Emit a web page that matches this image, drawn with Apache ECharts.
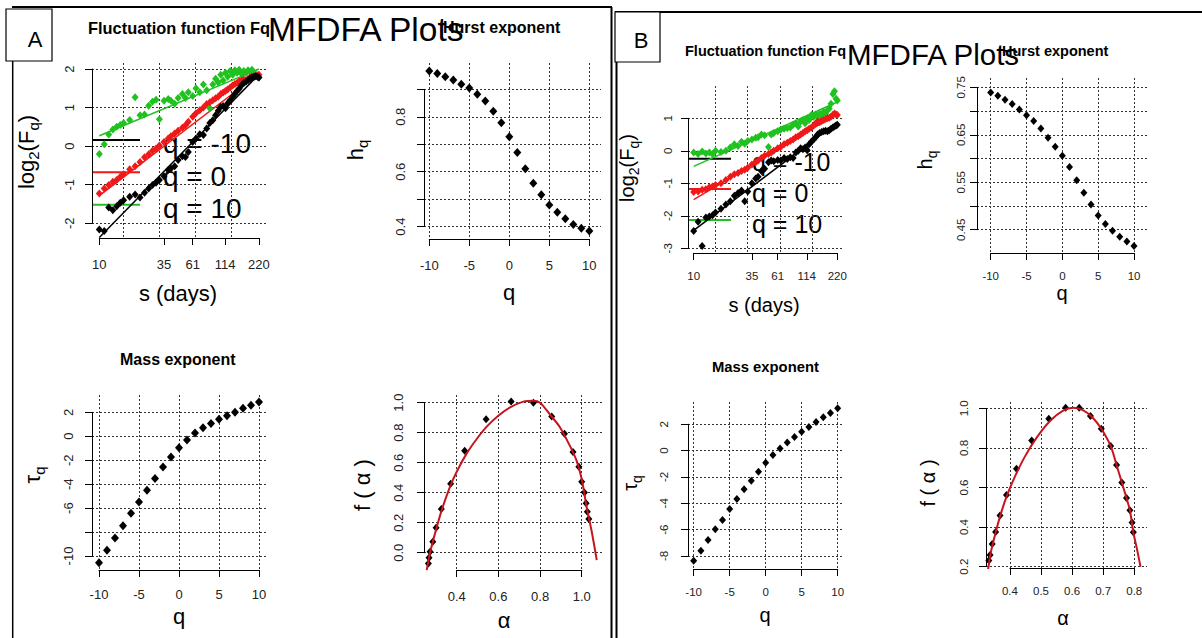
<!DOCTYPE html>
<html>
<head>
<meta charset="utf-8">
<title>MFDFA Plots</title>
<script src="https://cdn.jsdelivr.net/npm/echarts@6.0.0/dist/echarts.min.js"></script>
<style>
  html, body { margin: 0; padding: 0; background: #fff; }
  #chart { width: 1202px; height: 638px; }
</style>
</head>
<body>
<div id="chart"></div>
<script>
"use strict";

// ---- data ----

// segment sizes s (days) for the fluctuation function
const sDays = [10, 11, 12, 13, 14, 15, 16, 18, 20, 22, 24, 26, 28, 30, 32, 35, 38, 40, 43, 46, 50, 53, 56,
    61, 65, 70, 75, 80, 85, 90, 95, 100, 105, 110, 115, 120, 126, 132, 138, 144, 150, 157, 164, 171, 178,
    185, 192, 200, 207, 214, 220];

// panel A, log2(Fq)
const fqA_qm10 = [-2.16, -2.2, -1.59, -1.66, -1.56, -1.47, -1.4, -1.31, -1.25, -1.33, -1.21, -1.1, -1.01, -0.95,
    -0.88, -0.78, -0.62, -0.58, -0.52, -0.36, -0.26, -0.28, -0.15, 0.11, 0.2, 0.31, 0.29, 0.46, 0.6, 0.67, 0.8,
    0.92, 1.02, 1.04, 0.98, 1.11, 1.19, 1.28, 1.36, 1.43, 1.49, 1.58, 1.64, 1.67, 1.71, 1.75, 1.78, 1.8, 1.81,
    1.8, 1.78];
const fqA_q0 = [-1.23, -1.1, -1.01, -0.92, -0.88, -0.79, -0.73, -0.6, -0.52, -0.41, -0.29, -0.21, -0.12, -0.06,
    0.02, 0.11, 0.2, 0.26, 0.33, 0.4, 0.48, 0.54, 0.63, 0.76, 0.85, 0.93, 1.0, 1.09, 1.14, 1.19, 1.24, 1.28,
    1.35, 1.39, 1.43, 1.47, 1.52, 1.57, 1.61, 1.64, 1.68, 1.71, 1.73, 1.71, 1.75, 1.78, 1.8, 1.81, 1.83, 1.84,
    1.85];
const fqA_q10 = [-0.2, 0.05, 0.3, 0.43, 0.5, 0.55, 0.6, 0.68, 1.27, 0.8, 0.82, 1.05, 1.15, 1.2, 0.7, 1.18, 1.22,
    1.18, 1.1, 1.25, 1.35, 1.25, 1.4, 1.3, 1.5, 1.4, 1.6, 1.45, 0.98, 1.6, 1.75, 1.65, 1.85, 1.7, 1.9, 1.8, 1.95,
    1.85, 1.97, 1.9, 1.98, 1.88, 1.95, 1.9, 1.97, 1.92, 1.98, 1.9, 1.85, 1.8, 1.78];

// panel B, log2(Fq)
const fqB_qm10 = [-2.47, -2.18, -2.93, -2.05, -2.02, -1.98, -1.9, -1.78, -1.65, -1.55, -1.38, -1.3, -1.22, -1.55,
    -1.25, -1.0, -0.85, -0.8, -0.62, -0.55, -0.35, -0.3, -0.32, -0.28, -0.3, -0.22, -0.25, -0.2, -0.22, -0.05,
    0.0, 0.08, 0.05, 0.1, 0.02, 0.2, 0.28, 0.35, 0.42, 0.5, 0.55, 0.58, 0.6, 0.62, 0.6, 0.63, 0.68, 0.72, 0.75,
    0.78, 0.8];
const fqB_q0 = [-1.27, -1.25, -1.2, -1.18, -1.12, -1.1, -1.05, -1.0, -0.9, -0.8, -0.72, -0.68, -0.62, -0.58,
    -0.52, -0.42, -0.35, -0.3, -0.22, -0.15, -0.1, -0.05, 0.0, 0.08, 0.12, 0.2, 0.25, 0.3, 0.35, 0.42, 0.45,
    0.5, 0.55, 0.6, 0.63, 0.68, 0.72, 0.78, 0.85, 0.9, 0.88, 0.92, 0.95, 0.98, 1.0, 1.02, 1.05, 1.1, 1.15,
    1.12, 1.1];
const fqB_q10 = [-0.05, -0.1, -0.02, -0.08, -0.05, -0.1, 0.0, -0.04, 0.0, 0.1, 0.2, 0.15, 0.28, 0.22, 0.3, 0.35,
    0.4, 0.42, 0.5, 0.48, 0.12, 0.5, 0.55, 0.6, 0.65, 0.68, 0.7, 0.72, 0.8, 0.85, 0.75, 0.9, 0.95, 0.85, 1.0,
    0.95, 1.1, 1.05, 1.12, 1.05, 1.15, 1.1, 1.2, 1.15, 1.25, 1.3, 1.45, 1.75, 1.83, 1.6, 1.55];

// regression lines, value at s = 10 and s = 220
const fitS = [10, 220];
const fitA_qm10 = [-2.37, 1.86];
const fitA_q0 = [-1.28, 1.88];
const fitA_q10 = [0.27, 2.0];
const fitB_qm10 = [-2.45, 0.88];
const fitB_q0 = [-1.5, 1.14];
const fitB_q10 = [-0.48, 1.5];

// q from -10 to 10
const qVals = [-10, -9, -8, -7, -6, -5, -4, -3, -2, -1, 0, 1, 2, 3, 4, 5, 6, 7, 8, 9, 10];

// generalized Hurst exponent
const hqA = [0.967, 0.958, 0.946, 0.934, 0.919, 0.905, 0.882, 0.858, 0.82, 0.778, 0.727, 0.67, 0.611, 0.558,
    0.516, 0.479, 0.452, 0.429, 0.408, 0.394, 0.384];
const hqB = [0.739, 0.732, 0.724, 0.715, 0.703, 0.691, 0.679, 0.663, 0.644, 0.625, 0.606, 0.582, 0.554, 0.528,
    0.503, 0.48, 0.462, 0.448, 0.435, 0.425, 0.416];

// mass exponent
const tauA = [-10.56, -9.53, -8.5, -7.47, -6.44, -5.5, -4.5, -3.52, -2.57, -1.74, -0.96, -0.32, 0.28, 0.72, 1.06,
    1.42, 1.72, 2.0, 2.33, 2.58, 2.86];
const tauB = [-8.36, -7.6, -6.79, -5.97, -5.27, -4.43, -3.67, -2.94, -2.28, -1.6, -0.92, -0.33, 0.15, 0.61, 1.03,
    1.44, 1.79, 2.17, 2.53, 2.86, 3.21];

// singularity spectrum, points
const alphaA = [0.264, 0.267, 0.272, 0.285, 0.301, 0.326, 0.371, 0.438, 0.541, 0.661, 0.768, 0.856, 0.917, 0.958,
    0.986, 1.0, 1.013, 1.021, 1.027, 1.034];
const fAlphaA = [-0.071, -0.033, 0.007, 0.073, 0.167, 0.291, 0.46, 0.68, 0.889, 1.007, 1.0, 0.907, 0.793, 0.671,
    0.573, 0.473, 0.402, 0.329, 0.273, 0.224];
const alphaB = [0.332, 0.336, 0.343, 0.354, 0.368, 0.389, 0.421, 0.47, 0.525, 0.579, 0.623, 0.659, 0.694, 0.724,
    0.743, 0.76, 0.775, 0.786, 0.793, 0.797];
const fAlphaB = [0.231, 0.259, 0.315, 0.375, 0.458, 0.562, 0.695, 0.837, 0.948, 1.003, 1.003, 0.961, 0.897, 0.81,
    0.714, 0.625, 0.547, 0.485, 0.423, 0.374];

// singularity spectrum, fitted curve
const curveAlphaA = [0.256, 0.272, 0.296, 0.328, 0.368, 0.4, 0.448, 0.496, 0.544, 0.598, 0.656, 0.72, 0.768, 0.8,
    0.848, 0.896, 0.944, 0.976, 1.0, 1.024, 1.048, 1.072];
const curveFA = [-0.116, 0.0, 0.129, 0.284, 0.44, 0.54, 0.662, 0.758, 0.84, 0.911, 0.969, 1.007, 1.013, 1.0,
    0.92, 0.835, 0.71, 0.61, 0.49, 0.3, 0.14, -0.049];
const curveAlphaB = [0.33, 0.338, 0.352, 0.368, 0.389, 0.416, 0.448, 0.486, 0.529, 0.571, 0.604, 0.636, 0.665,
    0.694, 0.724, 0.743, 0.76, 0.775, 0.786, 0.797, 0.81, 0.82];
const curveFB = [0.187, 0.268, 0.36, 0.453, 0.554, 0.655, 0.756, 0.852, 0.936, 0.988, 1.003, 0.99, 0.955, 0.897,
    0.81, 0.714, 0.625, 0.547, 0.485, 0.374, 0.28, 0.2];

// tick / grid values
const sTicks = [10, 35, 61, 114, 220];
const sGrid = [16, 32, 64, 128];
const qTicks = [-10, -5, 0, 5, 10];

// ---- layout helpers ----
const FONT = '"Liberation Sans", Arial, sans-serif';
const BLACK = '#000';
const RED = '#f01818';
const GREEN = '#1fc21f';
const DARKRED = '#c8141e';
const gridLine = {color: '#333', width: 1, type: [2, 2]};

const grids = [], xAxes = [], yAxes = [], series = [];

function pairs(xs, ys) {
    return xs.map((x, i) => [x, ys[i]]);
}

// one R style panel: dotted grid over the plot region, axes that only run between first and last tick
function addPlot(p) {
    const [l, t, r, b] = p.box;
    const w = r - l, h = b - t;
    const tx = p.xLog ? Math.log2 : (v => v);
    const fx = v => (tx(v) - tx(p.x[0])) / (tx(p.x[1]) - tx(p.x[0]));
    const fy = v => (v - p.y[0]) / (p.y[1] - p.y[0]);
    const xType = p.xLog ? 'log' : 'value';
    const xFmt = p.xFmt || (v => String(Math.round(v)));
    const yFmt = p.yFmt || (v => String(Math.round(v)));

    const main = grids.length;
    grids.push({left: l, top: t, width: w, height: h, outerBoundsMode: 'none'});
    xAxes.push({
        gridIndex: main, type: xType, logBase: 2, min: p.x[0], max: p.x[1],
        axisLine: {show: false}, axisTick: {show: false, customValues: p.xGrid},
        axisLabel: {show: false}, splitLine: {show: true, lineStyle: gridLine}
    });
    yAxes.push({
        gridIndex: main, type: 'value', min: p.y[0], max: p.y[1],
        axisLine: {show: false}, axisTick: {show: false, customValues: p.yGrid},
        axisLabel: {show: false}, splitLine: {show: true, lineStyle: gridLine}
    });

    // x axis
    const x0 = p.xTicks[0], x1 = p.xTicks[p.xTicks.length - 1];
    const gx = grids.length;
    grids.push({left: l + w * fx(x0), width: w * (fx(x1) - fx(x0)), top: t, height: h, outerBoundsMode: 'none'});
    xAxes.push({
        gridIndex: gx, type: xType, logBase: 2, min: x0, max: x1, position: 'bottom',
        axisLine: {show: true, onZero: false, lineStyle: {color: BLACK, width: 1}},
        axisTick: {show: true, length: 7, customValues: p.xTicks, lineStyle: {color: BLACK}},
        axisLabel: {
            customValues: p.xLabels || p.xTicks, margin: p.xMargin, fontSize: p.font,
            fontFamily: FONT, color: '#222', formatter: xFmt
        },
        splitLine: {show: false}
    });
    yAxes.push({gridIndex: gx, type: 'value', show: false});

    // y axis
    const y0 = p.yTicks[0], y1 = p.yTicks[p.yTicks.length - 1];
    const gy = grids.length;
    grids.push({left: l, width: w, top: t + h * (1 - fy(y1)), height: h * (fy(y1) - fy(y0)), outerBoundsMode: 'none'});
    xAxes.push({gridIndex: gy, type: 'value', show: false});
    yAxes.push({
        gridIndex: gy, type: 'value', min: y0, max: y1, position: 'left',
        axisLine: {show: true, onZero: false, lineStyle: {color: BLACK, width: 1}},
        axisTick: {show: true, length: 7, customValues: p.yTicks, lineStyle: {color: BLACK}},
        axisLabel: {
            customValues: p.yLabels || p.yTicks, rotate: 90, margin: p.yMargin, fontSize: p.font,
            fontFamily: FONT, color: '#222', formatter: yFmt
        },
        splitLine: {show: false}
    });
    return main;
}

function points(idx, xs, ys, color, size) {
    series.push({
        type: 'scatter', xAxisIndex: idx, yAxisIndex: idx, data: pairs(xs, ys),
        symbol: 'diamond', symbolSize: size, itemStyle: {color: color, opacity: 1}, silent: true, z: 2
    });
}

function line(idx, xs, ys, color, width, smooth, z) {
    series.push({
        type: 'line', xAxisIndex: idx, yAxisIndex: idx, data: pairs(xs, ys), smooth: smooth || false,
        showSymbol: false, symbol: 'none', lineStyle: {color: color, width: width}, silent: true, z: z
    });
}

const f1 = v => v.toFixed(1);
const f2 = v => v.toFixed(2);

// ---- panel A ----
const a1 = addPlot({
    box: [92, 63, 266, 238], x: [8.68, 252.2], y: [-2.381, 2.156], xLog: true,
    xGrid: sGrid, yGrid: [-2, -1, 0, 1, 2], xTicks: sTicks, yTicks: [-2, -1, 0, 1, 2],
    font: 13, xMargin: 20, yMargin: 16
});
line(a1, fitS, fitA_q10, GREEN, 1.5, false, 1);
line(a1, fitS, fitA_q0, RED, 1.5, false, 1);
points(a1, sDays, fqA_q10, GREEN, [7, 8]);
points(a1, sDays, fqA_q0, RED, [7, 8]);
points(a1, sDays, fqA_qm10, BLACK, [7, 8]);
line(a1, fitS, fitA_qm10, BLACK, 1.5, false, 3);

const a2 = addPlot({
    box: [424, 63, 601, 239], x: [-10.66, 11.46], y: [0.355, 0.996],
    xGrid: qTicks, yGrid: [0.4, 0.5, 0.6, 0.7, 0.8, 0.9], xTicks: qTicks,
    yTicks: [0.4, 0.5, 0.6, 0.7, 0.8, 0.9], yLabels: [0.4, 0.6, 0.8], yFmt: f1,
    font: 13, xMargin: 20, yMargin: 17
});
points(a2, qVals, hqA, BLACK, [8, 9]);

const a3 = addPlot({
    box: [92, 395, 267, 570], x: [-10.875, 11.0], y: [-11.17, 3.445],
    xGrid: qTicks, yGrid: [-10, -8, -6, -4, -2, 0, 2], xTicks: qTicks,
    yTicks: [-10, -8, -6, -4, -2, 0, 2], yLabels: [-10, -6, -4, -2, 0, 2],
    font: 13, xMargin: 18, yMargin: 17
});
points(a3, qVals, tauA, BLACK, [8, 9]);

const a4 = addPlot({
    box: [424, 395, 603, 570], x: [0.243, 1.102], y: [-0.115, 1.051],
    xGrid: [0.4, 0.6, 0.8, 1.0], yGrid: [0, 0.2, 0.4, 0.6, 0.8, 1.0],
    xTicks: [0.4, 0.6, 0.8, 1.0], yTicks: [0, 0.2, 0.4, 0.6, 0.8, 1.0], xFmt: f1, yFmt: f1,
    font: 13, xMargin: 20, yMargin: 19
});
points(a4, alphaA, fAlphaA, BLACK, [7, 8]);
line(a4, curveAlphaA, curveFA, DARKRED, 2, 0.3, 3);

// ---- panel B ----
const b1 = addPlot({
    box: [688, 86, 844, 253], x: [8.85, 254], y: [-3.145, 1.994], xLog: true,
    xGrid: sGrid, yGrid: [-3, -2, -1, 0, 1], xTicks: sTicks, yTicks: [-3, -2, -1, 0, 1],
    font: 11.5, xMargin: 17, yMargin: 14
});
line(b1, fitS, fitB_q10, GREEN, 1.5, false, 1);
line(b1, fitS, fitB_q0, RED, 1.5, false, 1);
points(b1, sDays, fqB_q10, GREEN, [7, 8]);
points(b1, sDays, fqB_q0, RED, [7, 8]);
points(b1, sDays, fqB_qm10, BLACK, [7, 8]);
line(b1, fitS, fitB_qm10, BLACK, 1.5, false, 3);

const b2 = addPlot({
    box: [977, 78, 1147, 253], x: [-11.91, 11.81], y: [0.401, 0.7696],
    xGrid: qTicks, yGrid: [0.45, 0.5, 0.55, 0.6, 0.65, 0.7, 0.75], xTicks: qTicks,
    yTicks: [0.45, 0.5, 0.55, 0.6, 0.65, 0.7, 0.75], yLabels: [0.45, 0.55, 0.65, 0.75], yFmt: f2,
    font: 11.5, xMargin: 17, yMargin: 10
});
points(b2, qVals, hqB, BLACK, [7, 8]);

const b3 = addPlot({
    box: [688, 402, 844, 569], x: [-10.79, 10.88], y: [-8.99, 3.69],
    xGrid: qTicks, yGrid: [-8, -6, -4, -2, 0, 2], xTicks: qTicks, yTicks: [-8, -6, -4, -2, 0, 2],
    font: 11.5, xMargin: 17, yMargin: 18
});
points(b3, qVals, tauB, BLACK, [7, 8]);

const b4 = addPlot({
    box: [986, 402, 1147, 568], x: [0.323, 0.841], y: [0.1934, 1.032],
    xGrid: [0.4, 0.5, 0.6, 0.7, 0.8], yGrid: [0.2, 0.4, 0.6, 0.8, 1.0],
    xTicks: [0.4, 0.5, 0.6, 0.7, 0.8], yTicks: [0.2, 0.4, 0.6, 0.8, 1.0], xFmt: f1, yFmt: f1,
    font: 11.5, xMargin: 17, yMargin: 16
});
points(b4, alphaB, fAlphaB, BLACK, [7, 8]);
line(b4, curveAlphaB, curveFB, DARKRED, 2, 0.3, 3);

// ---- texts, legends, frames ----
function txt(x, y, text, size, opt) {
    opt = opt || {};
    const style = {
        text: text, fontSize: size, fontFamily: FONT, fontWeight: opt.bold ? 'bold' : 'normal', fill: '#000',
        align: opt.align || 'center', textAlign: opt.align || 'center',
        verticalAlign: 'middle', textVerticalAlign: 'middle'
    };
    if (opt.rich) style.rich = opt.rich;
    return {type: 'text', x: x, y: y, rotation: opt.rot ? Math.PI / 2 : 0, z: 0, silent: true, style: style};
}

function subRich(size) {
    return {
        a: {fontSize: size, fontFamily: FONT, fill: '#000', lineHeight: Math.round(size * 1.35)},
        s: {fontSize: Math.round(size * 0.7), fontFamily: FONT, fill: '#000', verticalAlign: 'bottom',
            lineHeight: Math.round(size * 0.7)}
    };
}

function seg(x1, y1, x2, y2, color, width) {
    return {type: 'line', silent: true, z: 0, shape: {x1: x1, y1: y1, x2: x2, y2: y2},
        style: {stroke: color, lineWidth: width}};
}

const logF = '{a|log}{s|2}{a|(F}{s|q}{a|)}';
const hq = '{a|h}{s|q}';
const tq = '{a|τ}{s|q}';

const graphics = [
    // frames
    seg(12, 7, 612, 7, BLACK, 2),
    seg(12.7, 61, 12.7, 638, BLACK, 1.5),
    seg(611.5, 7, 611.5, 638, BLACK, 2),
    seg(615, 12, 1202, 12, BLACK, 2),
    seg(616.5, 62, 616.5, 638, BLACK, 2),
    {type: 'rect', silent: true, shape: {x: 6, y: 9, width: 46, height: 52},
        style: {fill: '#fff', stroke: BLACK, lineWidth: 1.2}},
    {type: 'rect', silent: true, shape: {x: 615, y: 12, width: 45, height: 50},
        style: {fill: '#fff', stroke: BLACK, lineWidth: 1.2}},
    txt(35, 39, 'A', 22),
    txt(641, 40, 'B', 22),

    // titles A
    txt(88, 28, 'Fluctuation function Fq', 16.4, {bold: true, align: 'left'}),
    txt(443, 27, 'Hurst exponent', 16, {bold: true, align: 'left'}),
    txt(268, 29, 'MFDFA Plots', 33.5, {align: 'left'}),
    txt(120, 359, 'Mass exponent', 16, {bold: true, align: 'left'}),
    // titles B
    txt(685, 51, 'Fluctuation function Fq', 14.5, {bold: true, align: 'left'}),
    txt(1002, 51, 'Hurst exponent', 14.5, {bold: true, align: 'left'}),
    txt(847, 54, 'MFDFA Plots', 29.5, {align: 'left'}),
    txt(712, 367, 'Mass exponent', 14.8, {bold: true, align: 'left'}),

    // axis titles A
    txt(26, 152, logF, 22, {rot: true, rich: subRich(22)}),
    txt(178, 293, 's (days)', 22),
    txt(355, 150, hq, 22, {rot: true, rich: subRich(22)}),
    txt(509, 292, 'q', 22),
    txt(32, 475, tq, 22, {rot: true, rich: subRich(22)}),
    txt(179, 616, 'q', 22),
    txt(362, 485, 'f ( α )', 22, {rot: true}),
    txt(504, 620, 'α', 22),
    // axis titles B
    txt(627, 168, logF, 20, {rot: true, rich: subRich(20)}),
    txt(764, 305, 's (days)', 20),
    txt(925, 160, hq, 20, {rot: true, rich: subRich(20)}),
    txt(1062, 293, 'q', 20),
    txt(630, 483, tq, 20, {rot: true, rich: subRich(20)}),
    txt(765, 615, 'q', 20),
    txt(928, 483, 'f ( α )', 20, {rot: true}),
    txt(1063, 618, 'α', 20),

    // legend A
    seg(92, 140, 140, 140, BLACK, 2),
    seg(92, 172.3, 140, 172.3, RED, 2),
    seg(92, 204.7, 140, 204.7, GREEN, 2),
    txt(163, 143, 'q = -10', 28, {align: 'left'}),
    txt(163, 176, 'q = 0', 28, {align: 'left'}),
    txt(163, 208, 'q = 10', 28, {align: 'left'}),
    // legend B
    seg(688, 158.7, 731, 158.7, BLACK, 2),
    seg(688, 189, 731, 189, RED, 2),
    seg(688, 220, 731, 220, GREEN, 2),
    txt(752, 162, 'q = -10', 25, {align: 'left'}),
    txt(752, 193, 'q = 0', 25, {align: 'left'}),
    txt(752, 224, 'q = 10', 25, {align: 'left'})
];

const myChart = echarts.init(document.getElementById('chart'), null, {renderer: 'svg'});
let option = {
    backgroundColor: '#fff',
    animation: false,
    textStyle: {fontFamily: FONT},
    grid: grids,
    xAxis: xAxes,
    yAxis: yAxes,
    series: series,
    graphic: {elements: graphics}
};
myChart.setOption(option);
</script>
</body>
</html>
